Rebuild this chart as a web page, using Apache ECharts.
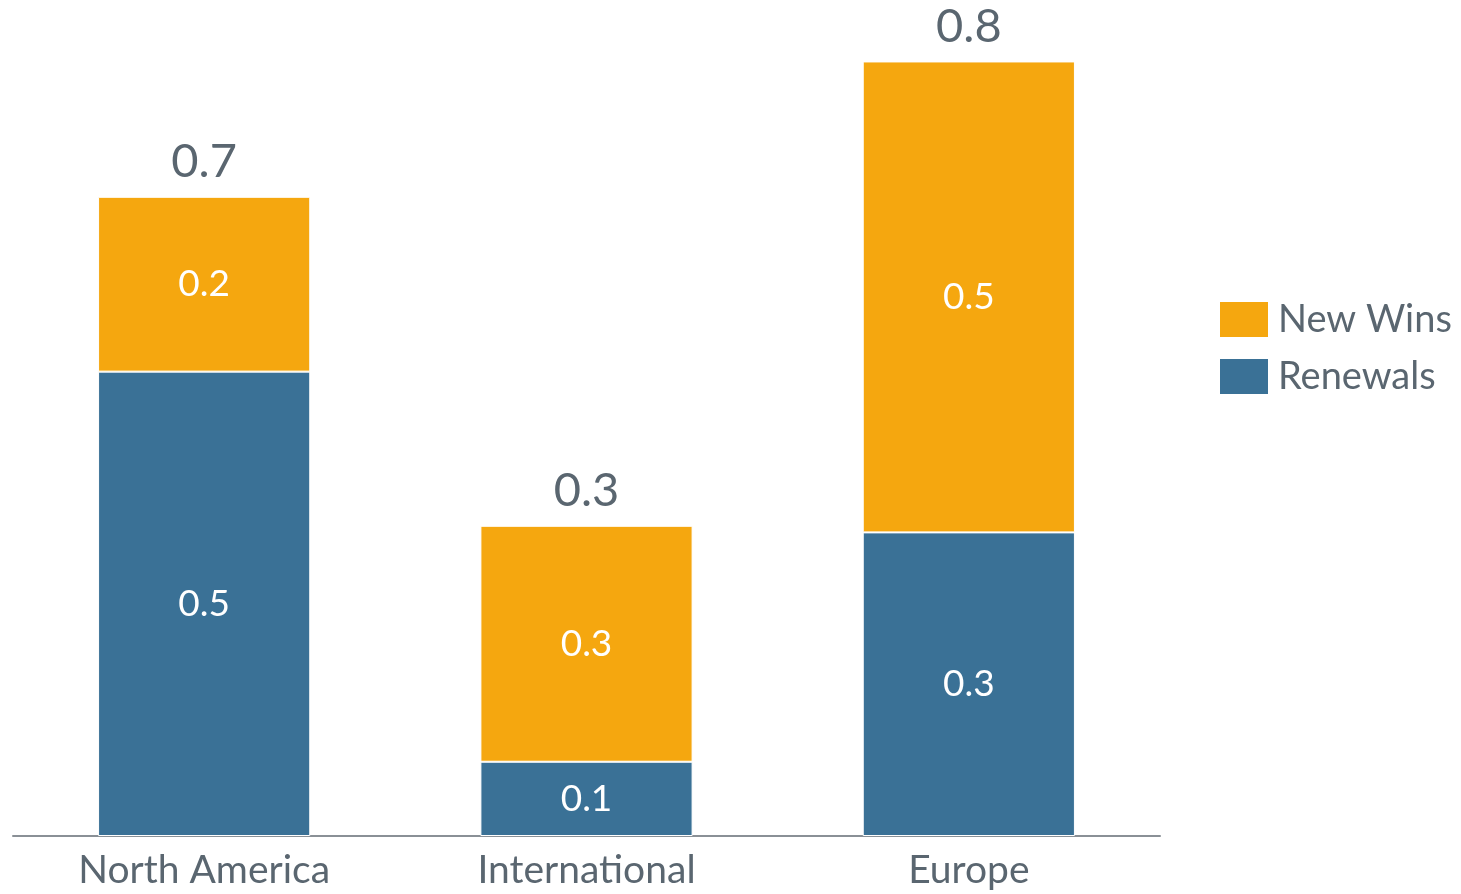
<!DOCTYPE html>
<html>
<head>
<meta charset="utf-8">
<script src="https://cdn.jsdelivr.net/npm/echarts@6/dist/echarts.min.js"></script>
<style>
  html, body { margin: 0; padding: 0; background: #fff; }
  #chart { width: 1461px; height: 894px; }
</style>
</head>
<body>
<div id="chart"></div>
<script>
// Regions and the two stacked components
const regions = ['North America', 'International', 'Europe'];
const renewals = [0.494, 0.079, 0.323];
const newWins = [0.186, 0.251, 0.501];
const totals = regions.map((r, i) => renewals[i] + newWins[i]);

const textGray = '#5a6670';
const fontName = 'Lato';

const chart = echarts.init(document.getElementById('chart'));

chart.setOption({
    animation: false,
    textStyle: { fontFamily: fontName },
    grid: { left: 13, right: 301, top: 37, bottom: 58 },
    legend: {
        data: ['New Wins', 'Renewals'],
        orient: 'vertical',
        left: 1213,
        top: 295,
        itemWidth: 50,
        itemHeight: 37,
        itemGap: 18,
        icon: 'rect',
        textStyle: { color: textGray, fontSize: 38, fontFamily: fontName, padding: [0, 0, 0, 4] }
    },
    xAxis: {
        type: 'category',
        data: regions,
        axisLine: { lineStyle: { color: '#8a9096', width: 2 } },
        axisTick: { show: false },
        axisLabel: { color: textGray, fontSize: 39, margin: 15 }
    },
    yAxis: {
        type: 'value',
        min: 0,
        max: 0.85,
        show: false
    },
    series: [
        {
            name: 'Renewals',
            type: 'bar',
            stack: 'total',
            barWidth: '55.5%',
            data: renewals,
            itemStyle: { color: '#3a7196', borderColor: '#fff', borderWidth: 1 },
            label: {
                show: true,
                position: 'inside',
                color: '#fff',
                fontSize: 37,
                formatter: p => p.value.toFixed(1)
            }
        },
        {
            name: 'New Wins',
            type: 'bar',
            stack: 'total',
            data: newWins,
            itemStyle: { color: '#f5a70f', borderColor: '#fff', borderWidth: 1 },
            label: {
                show: true,
                position: 'inside',
                color: '#fff',
                fontSize: 37,
                formatter: p => p.value.toFixed(1)
            }
        },
        {
            // zero-height series just to carry the total labels on top of each stack
            name: 'Total',
            type: 'bar',
            stack: 'total',
            data: totals.map(() => 0),
            itemStyle: { color: 'transparent' },
            label: {
                show: true,
                position: 'top',
                distance: 11,
                color: textGray,
                fontSize: 47,
                formatter: p => totals[p.dataIndex].toFixed(1)
            }
        }
    ]
});
</script>
</body>
</html>
